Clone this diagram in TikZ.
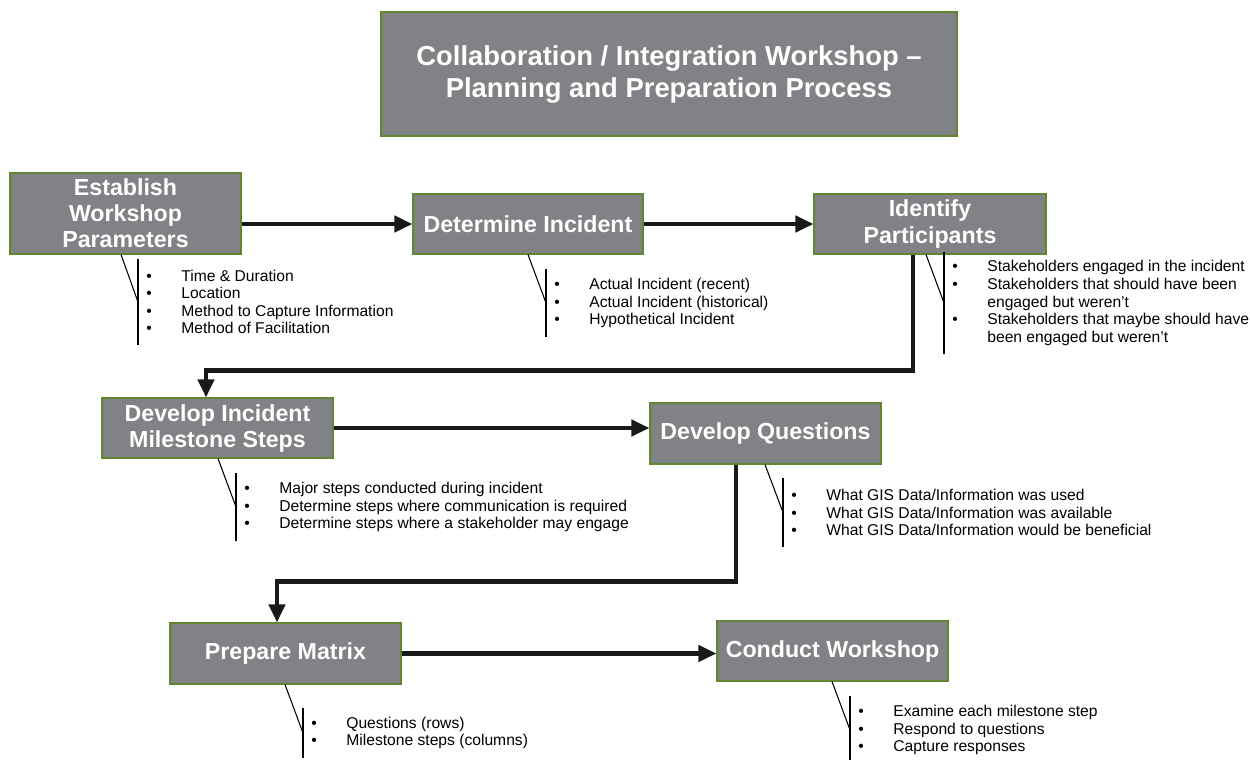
\documentclass[tikz,border=0pt]{standalone}
\usepackage{fontspec}
\setmainfont{Liberation Sans}
\usepackage{xcolor}
\usetikzlibrary{arrows.meta,positioning,calc}

\definecolor{boxgray}{RGB}{128,130,133}
\definecolor{boxedge}{RGB}{98,134,48}

\newcommand{\itm}{\makebox[0.86cm][l]{\hspace{0.16cm}\textbullet}}
\newcommand{\cont}{\hspace*{0.86cm}}

\begin{document}
\begin{tikzpicture}
	\tikzstyle{block} = [draw=boxedge,line width=0.6pt,rectangle,fill=boxgray,text=white,align=center,minimum width=4.62cm,minimum height=1.2cm,inner sep=0pt,font=\fontsize{13.2}{14.8}\selectfont\bfseries]
	\tikzstyle{titlebox} = [block,minimum width=11.52cm,minimum height=2.48cm,font=\fontsize{15.6}{18.2}\selectfont\bfseries]
	\tikzstyle{notes} = [anchor=west,align=left,inner sep=0pt,font=\fontsize{8.9}{10}\selectfont]
	\tikzset{
		flow/.style={->,>={Triangle[length=3.6mm,width=3.2mm]},line width=2.4pt,black!90},
		callout/.style={line width=0.6pt,black}
	}
	\useasboundingbox (0,0) rectangle (25,-15.18);

	\node[titlebox] (T0) at (13.38,-1.48) {Collaboration / Integration Workshop –\\Planning and Preparation Process};

	\node[block,minimum height=1.62cm] (T1) at (2.51,-4.27) {Establish\\Workshop\\Parameters};
	\node[block,minimum width=4.6cm] (T2) at (10.56,-4.48) {Determine Incident};
	\node[block,minimum width=4.64cm] (T3) at (18.6,-4.48) {Identify\\Participants};
	\node[block] (T4) at (4.35,-8.56) {Develop Incident\\Milestone Steps};
	\node[block,minimum height=1.22cm] (T5) at (15.31,-8.67) {Develop Questions};
	\node[block,minimum height=1.22cm] (T6) at (5.71,-13.07) {Prepare Matrix};
	\node[block] (T7) at (16.65,-13.02) {Conduct Workshop};

	% bullet lists
	\node[notes,minimum height=1.72cm] (L1) at (2.76,-6.04) {\itm Time \& Duration\\ \itm Location\\ \itm Method to Capture Information\\ \itm Method of Facilitation};
	\node[notes,minimum height=1.36cm] (L2) at (10.92,-6.06) {\itm Actual Incident (recent)\\ \itm Actual Incident (historical)\\ \itm Hypothetical Incident};
	\node[notes,minimum height=2.04cm] (L3) at (18.88,-6.06) {\itm Stakeholders engaged in the incident\\ \itm Stakeholders that should have been\\ \cont engaged but weren’t\\ \itm Stakeholders that maybe should have\\ \cont been engaged but weren’t};
	\node[notes,minimum height=1.36cm] (L4) at (4.72,-10.14) {\itm Major steps conducted during incident\\ \itm Determine steps where communication is required\\ \itm Determine steps where a stakeholder may engage};
	\node[notes,minimum height=1.38cm] (L5) at (15.66,-10.25) {\itm What GIS Data/Information was used\\ \itm What GIS Data/Information was available\\ \itm What GIS Data/Information would be beneficial};
	\node[notes,minimum height=1.0cm] (L6) at (6.06,-14.66) {\itm Questions (rows)\\ \itm Milestone steps (columns)};
	\node[notes,minimum height=1.36cm] (L7) at (17.0,-14.6) {\itm Examine each milestone step\\ \itm Respond to questions\\ \itm Capture responses};

	\draw[callout] (L1.north west) -- (L1.south west);
	\draw[callout] (T1.south -| L1.west) ++(-0.34,0) -- (L1.west);
	\draw[callout] (L2.north west) -- (L2.south west);
	\draw[callout] (T2.south -| L2.west) ++(-0.36,0) -- (L2.west);
	\draw[callout] (L3.north west) -- (L3.south west);
	\draw[callout] (T3.south -| L3.west) ++(-0.36,0) -- (L3.west);
	\draw[callout] (L4.north west) -- (L4.south west);
	\draw[callout] (T4.south -| L4.west) ++(-0.36,0) -- (L4.west);
	\draw[callout] (L5.north west) -- (L5.south west);
	\draw[callout] (T5.south -| L5.west) ++(-0.36,0) -- (L5.west);
	\draw[callout] (L6.north west) -- (L6.south west);
	\draw[callout] (T6.south -| L6.west) ++(-0.36,0) -- (L6.west);
	\draw[callout] (L7.north west) -- (L7.south west);
	\draw[callout] (T7.south -| L7.west) ++(-0.36,0) -- (L7.west);

	% process flow
	\draw[flow] (T1.east |- T2.west) -- (T2.west);
	\draw[flow] (T2.east) -- (T3.west);
	\draw[flow] ([xshift=-0.34cm]T3.south) -- ++(0,-2.32) -| ([xshift=-0.23cm]T4.north);
	\draw[flow] (T4.east) -- (T4.east -| T5.west);
	\draw[flow] ([xshift=-0.59cm]T5.south) -- ++(0,-2.34) -| ([xshift=-0.17cm]T6.north);
	\draw[flow] (T6.east) -- (T6.east -| T7.west);
\end{tikzpicture}
\end{document}
